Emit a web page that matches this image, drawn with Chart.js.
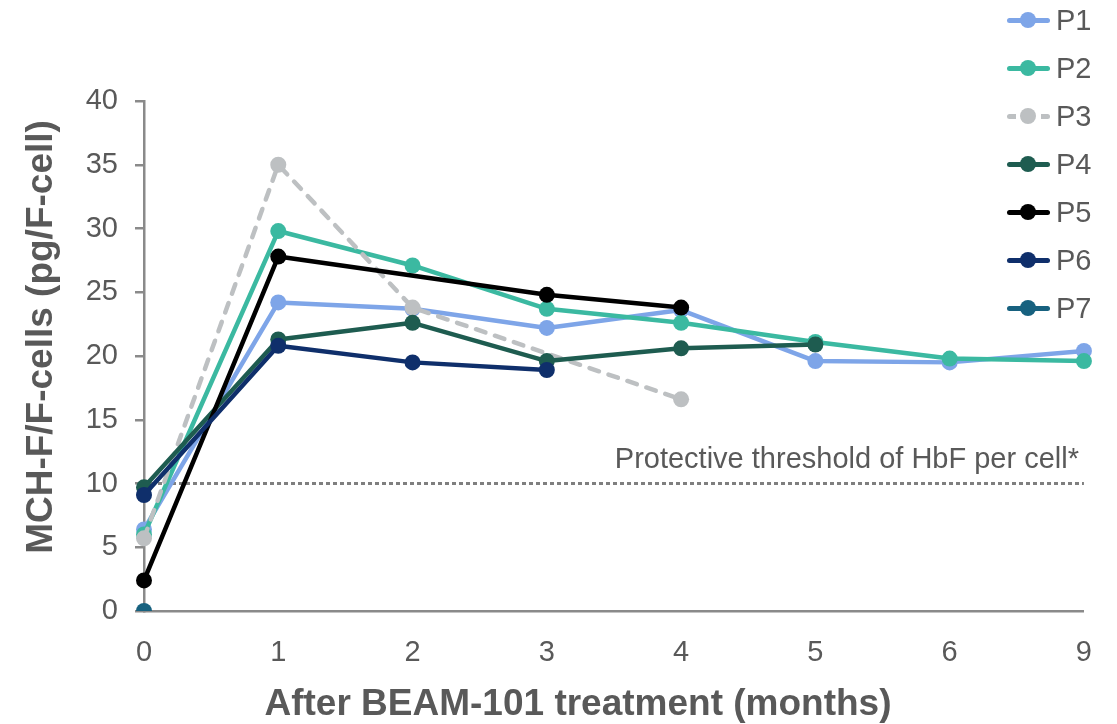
<!DOCTYPE html>
<html>
<head>
<meta charset="utf-8">
<script src="https://cdn.jsdelivr.net/npm/chart.js@4.4.1/dist/chart.umd.min.js"></script>
<style>
  html, body { margin: 0; padding: 0; background: #ffffff; }
  #wrap { position: relative; width: 1117px; height: 724px; overflow: hidden; }
  #legend { position: absolute; left: 1005px; top: 0; font-family: "Liberation Sans", Arial, sans-serif; font-size: 29px; color: #595959; }
  .item { position: absolute; left: 0; height: 30px; width: 112px; }
  .ln { position: absolute; left: 2px; top: 12.5px; width: 43px; height: 5px; border-radius: 2.5px; }
  .dot { position: absolute; left: 15px; top: 7px; width: 16px; height: 16px; border-radius: 50%; }
  .lbl { position: absolute; left: 51px; top: -1px; line-height: 32px; white-space: nowrap; }
</style>
</head>
<body>
<div id="wrap">
  <canvas id="c" width="1117" height="724"></canvas>
  <div id="legend"></div>
</div>
<script>
// ---- Data ----
const months = ['0', '1', '2', '3', '4', '5', '6', '9'];
const seriesNames = ['P1', 'P2', 'P3', 'P4', 'P5', 'P6', 'P7'];
const P1 = [6.4, 24.2, 23.7, 22.2, 23.6, 19.6, 19.5, 20.4];
const P2 = [6.0, 29.8, 27.1, 23.7, 22.6, 21.1, 19.8, 19.6];
const P3 = [5.7, 35.0, 23.8, null, 16.6, null, null, null];
const P4 = [9.7, 21.3, 22.6, 19.6, 20.6, 20.9, null, null];
const P5 = [2.4, 27.8, null, 24.8, 23.8, null, null, null];
const P6 = [9.1, 20.8, 19.5, 18.9, null, null, null, null];
const P7 = [0.0, null, null, null, null, null, null, null];
const thresholdValue = 10;
const threshold = months.map(() => thresholdValue);
const thresholdLabel = 'Protective threshold of HbF per cell*';
const yTicks = [0, 5, 10, 15, 20, 25, 30, 35, 40];
const xTitle = 'After BEAM-101 treatment (months)';
const yTitle = 'MCH-F/F-cells (pg/F-cell)';

const colors = ['#7EA5E8', '#3BB9A1', '#BDC0C2', '#1E5C50', '#000000', '#0F2F6B', '#17617F'];
const dashes = [[], [], [10, 10], [], [], [], []];
const seriesData = [P1, P2, P3, P4, P5, P6, P7];

const FONT = '"Liberation Sans", Arial, sans-serif';
const GREY = '#595959';
const AXIS = '#8a8a8a';

const datasets = seriesData.map((d, i) => ({
  label: seriesNames[i],
  data: d,
  borderColor: colors[i],
  backgroundColor: colors[i],
  pointBackgroundColor: colors[i],
  pointBorderColor: colors[i],
  pointBorderWidth: 0,
  pointRadius: 8,
  pointHoverRadius: 8,
  borderWidth: 4.5,
  borderDash: dashes[i],
  borderCapStyle: dashes[i].length ? 'round' : 'butt',
  borderJoinStyle: 'round',
  spanGaps: true,
  tension: 0,
  order: 7 - i,
  fill: false
}));
datasets.push({
  label: 'threshold',
  data: threshold,
  borderColor: '#7f7f7f',
  borderWidth: 3,
  borderDash: [4, 3],
  pointRadius: 0,
  pointHoverRadius: 0,
  order: 20,
  fill: false
});

const textPlugin = {
  id: 'textPlugin',
  afterDatasetsDraw(chart) {
    const ctx = chart.ctx;
    const y = chart.scales.y.getPixelForValue(thresholdValue);
    ctx.save();
    ctx.font = '29px ' + FONT;
    ctx.fillStyle = GREY;
    ctx.textAlign = 'right';
    ctx.textBaseline = 'alphabetic';
    ctx.fillText(thresholdLabel, 1079, y - 16);
    ctx.restore();
  },
  afterDraw(chart) {
    const ctx = chart.ctx;
    ctx.save();
    ctx.fillStyle = GREY;
    ctx.font = 'bold 37px ' + FONT;
    ctx.textAlign = 'center';
    ctx.textBaseline = 'middle';
    ctx.fillText(xTitle, 578, 705);
    ctx.translate(42, 337);
    ctx.rotate(-Math.PI / 2);
    ctx.fillText(yTitle, 0, 0);
    ctx.restore();
  }
};

new Chart(document.getElementById('c'), {
  type: 'line',
  data: { labels: months, datasets },
  options: {
    responsive: false,
    animation: false,
    layout: { padding: { left: 16, top: 101, right: 30, bottom: 0 } },
    plugins: { legend: { display: false }, tooltip: { enabled: false } },
    scales: {
      x: {
        type: 'category',
        offset: false,
        grid: { display: false, drawTicks: false },
        border: { display: true, color: AXIS, width: 2.5 },
        ticks: { color: GREY, font: { family: FONT, size: 29 }, padding: 25, maxRotation: 0 },
        title: { display: false, text: xTitle },
        afterFit(s) { s.height = 113; }
      },
      y: {
        min: 0, max: 40,
        afterBuildTicks(s) { s.ticks = yTicks.map(v => ({ value: v })); },
        grid: { display: true, drawOnChartArea: false, drawTicks: true, tickLength: 9, color: AXIS, lineWidth: 2.5 },
        border: { display: true, color: AXIS, width: 2.5 },
        ticks: { color: GREY, font: { family: FONT, size: 29 }, padding: 17 },
        title: { display: false, text: yTitle },
        afterFit(s) { s.width = 128; }
      }
    }
  },
  plugins: [textPlugin]
});

// HTML legend built from the series arrays
const legend = document.getElementById('legend');
seriesNames.forEach((name, i) => {
  const item = document.createElement('div');
  item.className = 'item';
  item.style.top = (5 + i * 48) + 'px';
  const ln = document.createElement('div');
  ln.className = 'ln';
  if (dashes[i].length) {
    ln.style.background = 'repeating-linear-gradient(90deg,' + colors[i] + ' 0 9px, transparent 9px 17px)';
  } else {
    ln.style.background = colors[i];
  }
  const dot = document.createElement('div');
  dot.className = 'dot';
  dot.style.background = colors[i];
  const lbl = document.createElement('div');
  lbl.className = 'lbl';
  lbl.textContent = name;
  item.appendChild(ln); item.appendChild(dot); item.appendChild(lbl);
  legend.appendChild(item);
});
</script>
</body>
</html>
